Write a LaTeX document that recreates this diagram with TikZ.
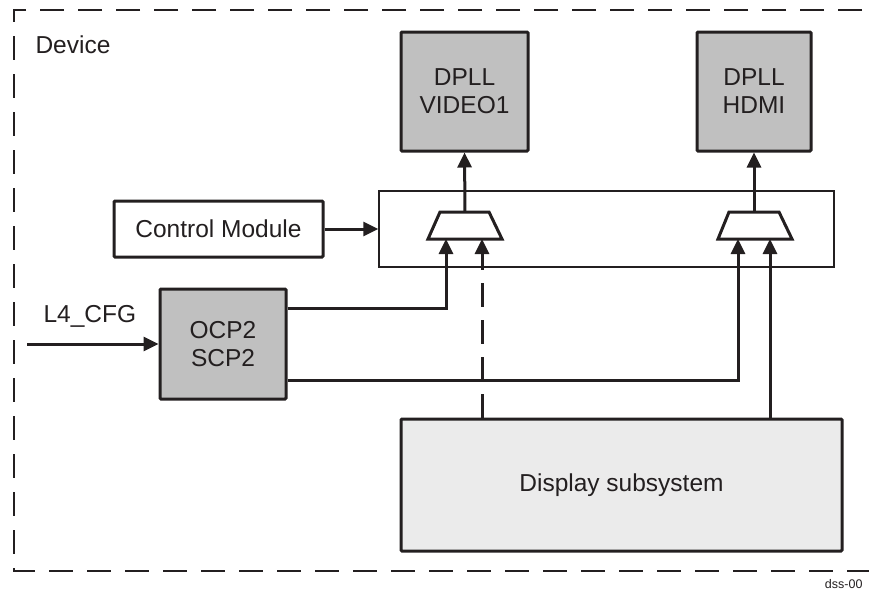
\documentclass[tikz,border=0pt]{standalone}
\usepackage{fontspec}
\setmainfont{Liberation Sans}
\usetikzlibrary{arrows.meta}
\definecolor{ink}{HTML}{231F20}
\definecolor{blkfill}{HTML}{C0C0C0}
\definecolor{dssfill}{HTML}{EBEBEB}
\begin{document}
\begin{tikzpicture}[x=1pt,y=-1pt,
  lbl/.style={font=\fontsize{24.5}{28}\selectfont, text=ink},
  darkbox/.style={draw=ink, line width=3pt, fill=blkfill, rounded corners=1pt, lbl, align=center, inner sep=0pt},
  whitebox/.style={draw=ink, line width=3pt, fill=white, rounded corners=1pt, lbl, align=center, inner sep=0pt},
  arr/.style={draw=ink, line width=3pt, -{Triangle[length=15pt,width=14pt]}},
  dasharr/.style={arr, dash pattern=on 24pt off 13pt},
  devdash/.style={draw=ink, line width=2pt, dash pattern=on 24pt off 14pt},
  muxshape/.style={draw=ink, line width=3pt, fill=white, line join=miter}
]
\useasboundingbox (0,0) rectangle (869,592);

% device frame
\draw[devdash] (900,10) -- (14,10) -- (14,571) -- (900,571);
\node[lbl, anchor=west] (dev) at (32,45) {Device};

% DPLL blocks
\node[darkbox, minimum width=127pt, minimum height=119pt] (v1) at (464.5,91.5) {DPLL\\VIDEO1};
\node[darkbox, minimum width=114pt, minimum height=119pt] (hd) at (754,91.5) {DPLL\\HDMI};

% mux container
\node[draw=ink, line width=1.5pt, minimum width=455pt, minimum height=76pt, inner sep=0pt] (ctr) at (606.5,229) {};

% muxes
\draw[muxshape] (440,212) -- (489,212) -- (502,239) -- (428,239) -- cycle;
\draw[muxshape] (729,212) -- (779,212) -- (792,239) -- (718,239) -- cycle;
\coordinate (m1o) at (465,212);
\coordinate (m2o) at (754,212);
\coordinate (m1a) at (446,239);
\coordinate (m1b) at (482,239);
\coordinate (m2a) at (738,239);
\coordinate (m2b) at (770,239);

% control module
\node[whitebox, minimum width=209pt, minimum height=56pt] (cm) at (218.5,229) {Control Module};

% OCP2/SCP2
\node[darkbox, minimum width=126pt, minimum height=110pt] (ocp) at (223,344) {OCP2\\SCP2};

% display subsystem
\node[draw=ink, line width=3pt, fill=dssfill, rounded corners=1pt, lbl, minimum width=441pt, minimum height=132pt, inner sep=0pt] (dss) at (621.5,485) {Display subsystem};

% L4_CFG input
\coordinate (l4in) at (27,344);
\node[lbl, anchor=south west] (l4) at (40,331) {L4\_CFG};
\draw[arr] (l4in) -- (ocp.west);

% connectors
\draw[arr] (m1o) -- (v1.south);
\draw[arr] (m2o) -- (hd.south);
\draw[arr] (cm.east) -- (ctr.west);
\draw[arr, line join=miter] (ocp.east |- 0,308) -| (m1a);
\draw[arr, line join=miter] (ocp.east |- 0,380) -| (m2a);
\draw[dasharr] (dss.north -| m1b) -- (m1b);
\draw[arr] (dss.north -| m2b) -- (m2b);

% figure id
\node[font=\fontsize{12.5}{14}\selectfont, text=ink, anchor=east] (fid) at (866,584) {dss-00};
\end{tikzpicture}
\end{document}
